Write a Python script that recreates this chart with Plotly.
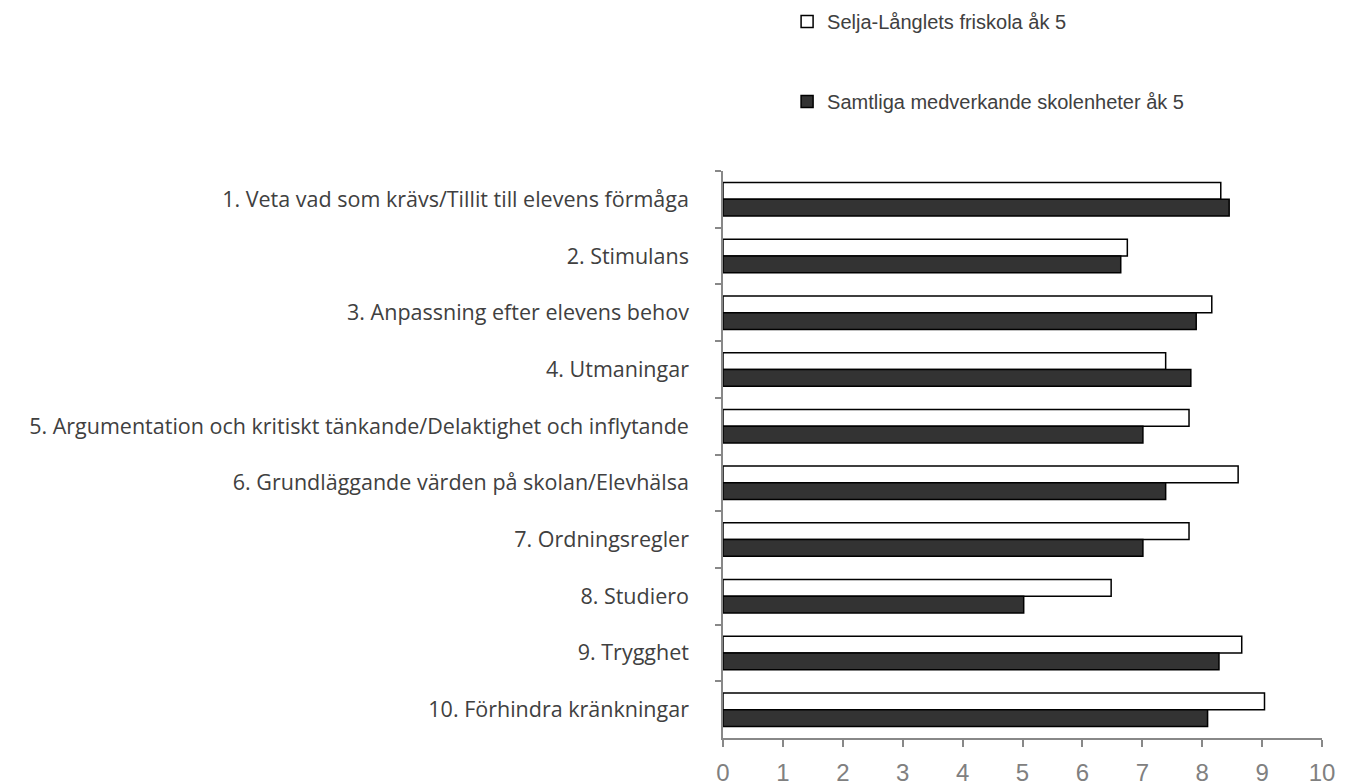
import plotly.graph_objects as go

categories = [
    "1. Veta vad som krävs/Tillit till elevens förmåga",
    "2. Stimulans",
    "3. Anpassning efter elevens behov",
    "4. Utmaningar",
    "5. Argumentation och kritiskt tänkande/Delaktighet och inflytande",
    "6. Grundläggande värden på skolan/Elevhälsa",
    "7. Ordningsregler",
    "8. Studiero",
    "9. Trygghet",
    "10. Förhindra kränkningar",
]
selja = [8.31, 6.75, 8.16, 7.39, 7.78, 8.60, 7.78, 6.48, 8.66, 9.04]
samtliga = [8.45, 6.64, 7.90, 7.81, 7.01, 7.39, 7.01, 5.02, 8.28, 8.09]
x_ticks = list(range(0, 11))

fig = go.Figure()
fig.add_trace(go.Bar(y=categories, x=selja, orientation="h", name="Selja-Långlets friskola åk 5",
    legendgroup="a", marker=dict(color="white", line=dict(color="black", width=1.5))))
fig.add_trace(go.Bar(y=categories, x=samtliga, orientation="h", name="Samtliga medverkande skolenheter åk 5",
    legendgroup="b", marker=dict(color="#333333", line=dict(color="black", width=1.5))))

fig.update_layout(
    width=1351, height=783, template="simple_white",
    paper_bgcolor="white", plot_bgcolor="white",
    margin=dict(l=715, r=37, t=163, b=53, autoexpand=False),
    barmode="group", bargap=0.41, bargroupgap=0,
    showlegend=True,
    legend=dict(x=0.107, y=1.298, xanchor="left", yanchor="top", tracegroupgap=51,
                font=dict(family="Liberation Sans, Arial", size=20, color="#404040"),
                bgcolor="rgba(0,0,0,0)"),
    xaxis=dict(range=[0, 10], tickvals=x_ticks, showgrid=False, showline=True,
               linecolor="#888888", linewidth=1.5, ticks="outside", ticklen=7,
               tickcolor="#888888", tickwidth=1.5, ticklabelstandoff=5,
               tickfont=dict(family="Liberation Sans, Arial", size=24, color="#808080")),
    yaxis=dict(autorange="reversed", showgrid=False, showline=True, linecolor="#888888",
               linewidth=1.5, ticks="outside", ticklen=6, tickcolor="#888888", tickwidth=1.5,
               tickson="boundaries", ticklabelstandoff=28,
               tickfont=dict(family="Open Sans", size=21.5, color="#404040")),
)
fig.write_html("out.html")
